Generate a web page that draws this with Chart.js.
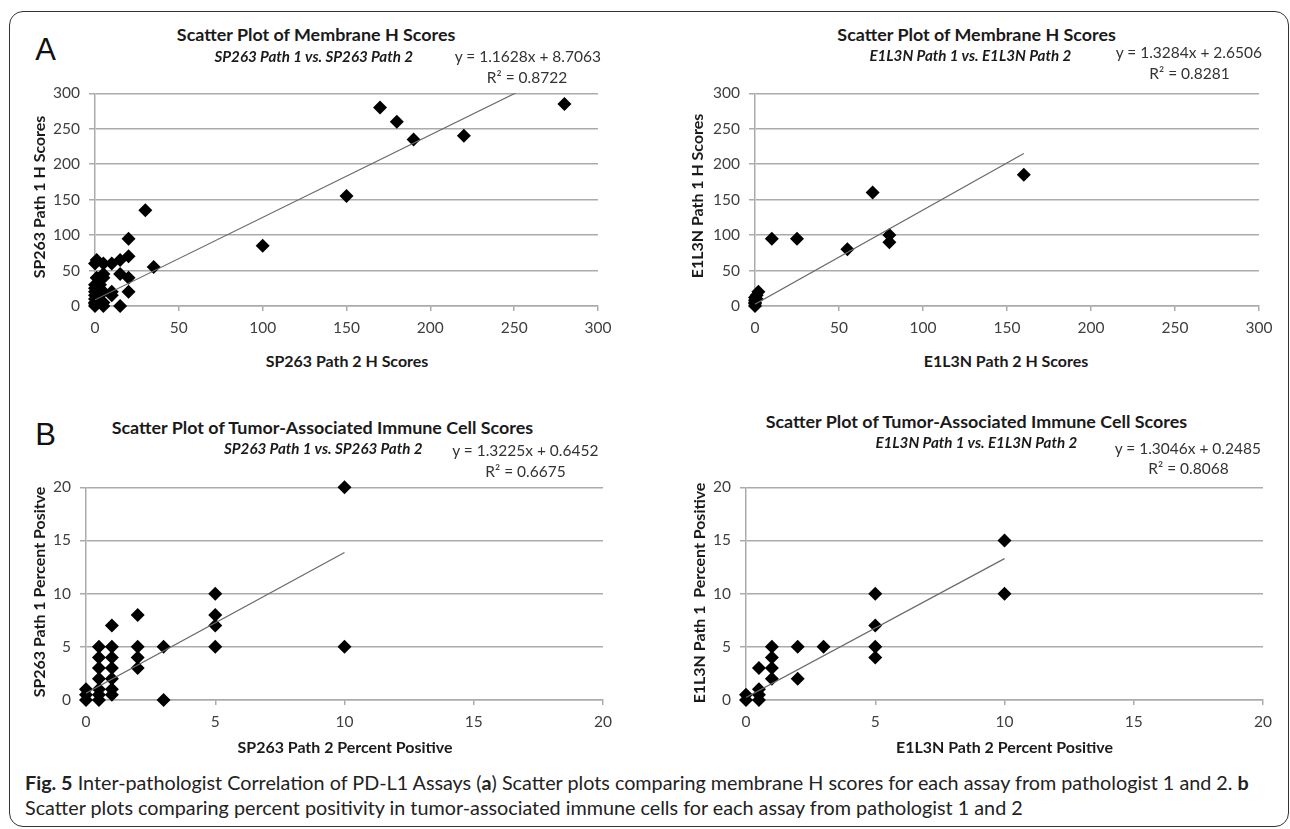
<!DOCTYPE html>
<html><head><meta charset="utf-8">
<script src="https://cdn.jsdelivr.net/npm/chart.js@4.4.0/dist/chart.umd.min.js"></script>
<style>
html,body{margin:0;padding:0;background:#fff;width:1290px;height:829px;overflow:hidden;position:relative;}
#frame{position:absolute;left:9px;top:11px;width:1280px;height:816px;border:1.5px solid #333;border-radius:14px;box-sizing:border-box;}
.t{position:absolute;white-space:pre;line-height:1;color:#1a1a1a;}
canvas{position:absolute;}
</style></head><body>
<div id="frame"></div>
<script>
// ---------- DATA ----------
const hScoreTicks = [0, 50, 100, 150, 200, 250, 300];
const pctTicks = [0, 5, 10, 15, 20];

// A-left: SP263 membrane H scores (x = Path 2, y = Path 1)
const sp263H_path2 = [0,0,0,0,0,0,0,0,0, 1,1,2,3, 5,5,5,5,5,5, 10,10,10, 15,15,15, 20,20,20,20, 30,35,100,150,170,180,190,220,280];
const sp263H_path1 = [0,3,5,10,15,20,25,30,60, 65,40,10,30, 0,5,20,40,45,60, 60,15,20, 65,45,0, 95,70,40,20, 135,55,85,155,280,260,235,240,285];
const sp263H_trend = [1.1628, 8.7063];

// A-right: E1L3N membrane H scores
const e1l3nH_path2 = [0,0,0,0,0,1,1,2, 10,25,55,70,80,80,160];
const e1l3nH_path1 = [0,3,5,8,12,10,15,20, 95,95,80,160,100,90,185];
const e1l3nH_trend = [1.3284, 2.6506];

// B-left: SP263 immune cell percent positive
const sp263P_path2 = [10,10,5,5,5,5,3,3,2,2,2,2,1,1,1,1,1,1,1,0.5,0.5,0.5,0.5,0.5,0.5,0.5,0,0,0];
const sp263P_path1 = [20,5,10,8,7,5,5,0,8,5,4,3,7,5,4,3,2,1,0.5,5,4,3,2,1,0.5,0,1,0.5,0];
const sp263P_trend = [1.3225, 0.6452];

// B-right: E1L3N immune cell percent positive
const e1l3nP_path2 = [10,10,5,5,5,5,3,2,2,1,1,1,1,0.5,0.5,0.5,0.5,0,0];
const e1l3nP_path1 = [15,10,10,7,5,4,5,5,2,5,4,3,2,3,1,0.5,0,0.5,0];
const e1l3nP_trend = [1.3046, 0.2485];

// ---------- TEXT ----------
const titleH = 'Scatter Plot of Membrane H Scores';
const titleP = 'Scatter Plot of Tumor-Associated Immune Cell Scores';
const subSP = 'SP263 Path 1 vs. SP263 Path 2';
const subE1 = 'E1L3N Path 1 vs. E1L3N Path 2';
const eqTexts = ['y = 1.1628x + 8.7063','y = 1.3284x + 2.6506','y = 1.3225x + 0.6452','y = 1.3046x + 0.2485'];
const r2Texts = ['R\u00B2 = 0.8722','R\u00B2 = 0.8281','R\u00B2 = 0.6675','R\u00B2 = 0.8068'];
const yTitles = ['SP263 Path 1 H Scores','E1L3N Path 1 H Scores','SP263 Path 1 Percent Positve','E1L3N Path 1  Percent Positive'];
const xTitles = ['SP263 Path 2 H Scores','E1L3N Path 2 H Scores','SP263 Path 2 Percent Positive','E1L3N Path 2 Percent Positive'];

// ---------- LAYOUT ----------
const GRID = '#ababab';
const TICK = '#3f3f3f';
const geos = [
  {l:95, r:598, t:87, b:306},
  {l:755, r:1259, t:87, b:306},
  {l:86, r:603, t:481, b:700},
  {l:746, r:1263, t:481, b:700}
];

function makeChart(geo, xs, ys, trend, tickVals){
  const padTop=12, padRight=22, yW=50, xH=40;
  const W = geo.r - geo.l + yW + padRight, H = geo.b - geo.t + padTop + xH;
  const cv = document.createElement('canvas');
  cv.width = W; cv.height = H;
  cv.style.left = (geo.l - yW) + 'px'; cv.style.top = (geo.t - padTop) + 'px';
  cv.style.width = W + 'px'; cv.style.height = H + 'px';
  document.body.appendChild(cv);
  const pts = xs.map((x,i)=>({x:x, y:ys[i]}));
  const x0 = Math.min(...xs), x1 = Math.max(...xs);
  const line = [{x:x0, y:trend[0]*x0+trend[1]}, {x:x1, y:trend[0]*x1+trend[1]}];
  const lo = tickVals[0], hi = tickVals[tickVals.length-1];
  const fixTicks = s => { s.ticks = tickVals.map(v=>({value:v})); };
  return new Chart(cv, {
    type:'scatter',
    data:{datasets:[
      {data:line, showLine:true, borderColor:'#6a6a6a', borderWidth:1.2, pointRadius:0, order:0},
      {data:pts, pointStyle:'rectRot', pointRadius:7, backgroundColor:'#000', borderWidth:0, order:1, clip:false}
    ]},
    options:{
      responsive:false, animation:false, devicePixelRatio:1, events:[],
      layout:{padding:{top:padTop, right:padRight, left:0, bottom:0}},
      plugins:{legend:{display:false}, tooltip:{enabled:false}},
      scales:{
        x:{type:'linear', min:lo, max:hi, afterBuildTicks:fixTicks, afterFit:s=>{s.height=xH;},
           grid:{drawOnChartArea:false, drawTicks:true, tickLength:5, color:GRID, lineWidth:1.5},
           border:{display:true, color:GRID, width:1.5},
           ticks:{font:{family:'Lato', size:15.5}, color:TICK, padding:8, maxRotation:0, autoSkip:false}},
        y:{type:'linear', min:lo, max:hi, afterBuildTicks:fixTicks, afterFit:s=>{s.width=yW;},
           grid:{drawTicks:true, tickLength:6, color:GRID, lineWidth:1.5},
           border:{display:true, color:GRID, width:1.5},
           ticks:{font:{family:'Lato', size:15.5}, color:TICK, padding:9, autoSkip:false}}
      }
    }
  });
}

makeChart(geos[0], sp263H_path2, sp263H_path1, sp263H_trend, hScoreTicks);
makeChart(geos[1], e1l3nH_path2, e1l3nH_path1, e1l3nH_trend, hScoreTicks);
makeChart(geos[2], sp263P_path2, sp263P_path1, sp263P_trend, pctTicks);
makeChart(geos[3], e1l3nP_path2, e1l3nP_path1, e1l3nP_trend, pctTicks);

// ---------- TEXT PLACEMENT ----------
const mctx = document.createElement('canvas').getContext('2d');
function fontStr(st, wt, sz, fam){ return st+' '+wt+' '+sz+'px '+fam; }
function meas(text, st, wt, sz, fam){ mctx.font = fontStr(st,wt,sz,fam); return mctx.measureText(text).width; }

const cats = {
  title:{st:'normal', wt:'bold', fam:'Lato', color:'#1a1a1a', samples:[[titleH,279],[titleH,279],[titleP,424],[titleP,424]]},
  sub:{st:'italic', wt:'bold', fam:'Lato', color:'#1a1a1a', samples:[[subSP,201],[subE1,211],[subSP,195],[subE1,196]]},
  eq:{st:'normal', wt:'normal', fam:'Lato', color:'#333', samples:[[eqTexts[0],144],[eqTexts[1],148],[eqTexts[2],147],[eqTexts[3],148]]},
  axis:{st:'normal', wt:'bold', fam:'Lato', color:'#1a1a1a', samples:[[xTitles[0],166],[xTitles[1],163],[xTitles[2],217],[xTitles[3],220],[yTitles[0],160],[yTitles[1],162]]}
};
for (const k in cats){
  const c = cats[k];
  let s = 0;
  c.samples.forEach(([tx,w])=>{ s += 20*w/meas(tx,c.st,c.wt,20,c.fam); });
  c.size = s / c.samples.length;
}
function place(text, cat, cx, cy, rot){
  const c = cats[cat];
  const el = document.createElement('div');
  el.className = 't';
  el.textContent = text;
  el.style.font = fontStr(c.st, c.wt, c.size, c.fam);
  el.style.lineHeight = '1';
  el.style.color = c.color;
  const w = meas(text, c.st, c.wt, c.size, c.fam);
  el.style.left = (cx - w/2) + 'px';
  el.style.top = (cy - c.size/2) + 'px';
  el.style.width = w + 'px';
  if (rot){ el.style.transformOrigin = '50% 50%'; el.style.transform = 'rotate(-90deg)'; }
  document.body.appendChild(el);
}
function letter(ch, cx, cy){
  const el = document.createElement('div');
  el.className = 't';
  el.textContent = ch;
  el.style.font = 'normal 400 31px "Liberation Sans"';
  el.style.color = '#111';
  const w = meas(ch,'normal','400',31,'"Liberation Sans"');
  el.style.left = (cx - w/2)+'px'; el.style.top = (cy - 15.5)+'px';
  document.body.appendChild(el);
}

letter('A', 45.6, 47);
letter('B', 45.6, 432);

place(titleH,'title',316.5,35);
place(subSP,'sub',314,57);
place(eqTexts[0],'eq',528,57);
place(r2Texts[0],'eq',527,78);
place(yTitles[0],'axis',39.5,197,true);
place(xTitles[0],'axis',347,361);

place(titleH,'title',977,35);
place(subE1,'sub',970.5,56);
place(eqTexts[1],'eq',1189,53);
place(r2Texts[1],'eq',1189.5,74);
place(yTitles[1],'axis',697,196,true);
place(xTitles[1],'axis',1006,361);

place(titleP,'title',323,428);
place(subSP,'sub',323.5,449);
place(eqTexts[2],'eq',525.5,451);
place(r2Texts[2],'eq',525.5,472);
place(yTitles[2],'axis',39,592,true);
place(xTitles[2],'axis',345,747);

place(titleP,'title',977,422);
place(subE1,'sub',976.5,443);
place(eqTexts[3],'eq',1188,449);
place(r2Texts[3],'eq',1188.5,469);
place(yTitles[3],'axis',699,593,true);
place(xTitles[3],'axis',1004.5,747);

// caption
const capLine2 = 'Scatter plots comparing percent positivity in tumor-associated immune cells for each assay from pathologist 1 and 2';
const capSize = 20*1000/meas(capLine2,'normal','normal',20,'Lato');
function capLine(html, cy){
  const el = document.createElement('div');
  el.style.position='absolute'; el.style.left='25px'; el.style.whiteSpace='pre';
  el.style.fontFamily='Lato,sans-serif'; el.style.fontSize=capSize+'px'; el.style.lineHeight='1'; el.style.color='#222';
  el.style.top = (cy - capSize/2)+'px';
  el.innerHTML = html;
  document.body.appendChild(el);
}
capLine('<b>Fig. 5</b> Inter-pathologist Correlation of PD-L1 Assays (<b>a</b>) Scatter plots comparing membrane H scores for each assay from pathologist 1 and 2. <b>b</b>', 783);
capLine(capLine2, 808);
</script>
</body></html>
